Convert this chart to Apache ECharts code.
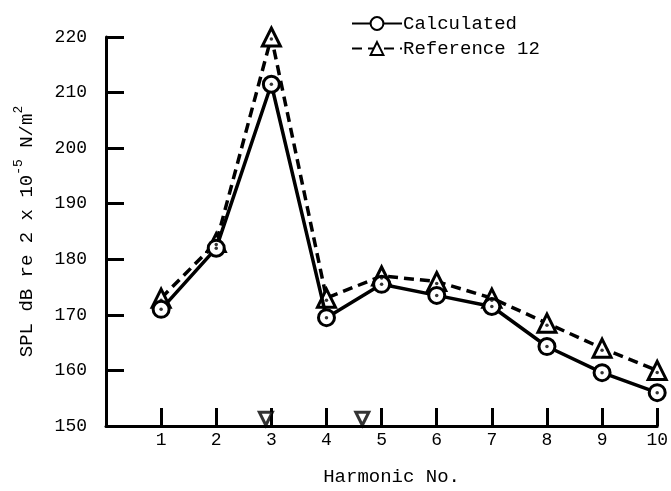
<!DOCTYPE html>
<html>
<head>
<meta charset="utf-8">
<script src="https://cdn.jsdelivr.net/npm/echarts@6/dist/echarts.min.js"></script>
<style>
  html, body { margin: 0; padding: 0; background: #fff; }
  #chart { width: 671px; height: 491px; }
</style>
</head>
<body>
<div id="chart"></div>
<script>
    // harmonic numbers
    var harmonics = [1, 2, 3, 4, 5, 6, 7, 8, 9, 10];
    // SPL values (dB)
    var calculated = [171, 182, 211.5, 169.5, 175.5, 173.5, 171.5, 164.3, 159.6, 156];
    var reference12 = [173, 183, 220, 173, 177, 176, 173, 168.5, 164, 160];
    // the two open down-triangles sitting on the x axis
    var axisMarks = [[2.9, 151.3], [4.65, 151.3]];
    var yTicks = [150, 160, 170, 180, 190, 200, 210, 220];

    var fontName = "Liberation Mono";

    function pairs(vals) {
        return harmonics.map(function (h, i) {
            return [h, vals[i]];
        });
    }

    var option = {
        backgroundColor: "#fff",
        animation: false,
        textStyle: {fontFamily: fontName, color: "#000"},
        legend: {
            data: ["Calculated", "Reference 12"],
            orient: "vertical",
            left: 346,
            top: 9,
            itemWidth: 50,
            itemHeight: 16,
            itemGap: 6,
            textStyle: {fontFamily: fontName, fontSize: 19, color: "#000", padding: [0, 0, 0, -4]}
        },
        grid: {left: 106, right: 12, top: 37, bottom: 62},
        xAxis: {
            type: "value",
            min: 0,
            max: 10,
            interval: 1,
            name: "Harmonic No.",
            nameLocation: "middle",
            nameGap: 41,
            nameTextStyle: {fontFamily: fontName, fontSize: 19, color: "#000", padding: [0, 0, 0, 20]},
            axisLine: {lineStyle: {color: "#000", width: 3}},
            axisTick: {inside: true, length: 18, lineStyle: {color: "#000", width: 3}},
            axisLabel: {
                fontFamily: fontName,
                fontSize: 18,
                color: "#000",
                margin: 5,
                formatter: function (v) {
                    return v === 0 ? "" : String(v);
                }
            },
            splitLine: {show: false}
        },
        yAxis: {
            type: "value",
            min: yTicks[0],
            max: yTicks[yTicks.length - 1],
            interval: 10,
            name: "{a|SPL dB re 2 x 10}{s|-5}{a| N/m}{s|2}",
            nameLocation: "middle",
            nameGap: 70,
            nameRotate: 90,
            nameTextStyle: {
                rich: {
                    a: {fontFamily: fontName, fontSize: 19, color: "#000", verticalAlign: "bottom", lineHeight: 24},
                    s: {fontFamily: fontName, fontSize: 13, color: "#000", verticalAlign: "top", lineHeight: 24}
                }
            },
            axisLine: {lineStyle: {color: "#000", width: 3}},
            axisTick: {inside: true, length: 18, lineStyle: {color: "#000", width: 3}},
            axisLabel: {fontFamily: fontName, fontSize: 18, color: "#000", margin: 19},
            splitLine: {show: false}
        },
        series: [
            {
                name: "Calculated",
                type: "line",
                data: pairs(calculated),
                symbol: "circle",
                symbolSize: 16,
                lineStyle: {color: "#000", width: 3.5},
                itemStyle: {color: "#fff", borderColor: "#000", borderWidth: 3},
                z: 3
            },
            {
                name: "Reference 12",
                type: "line",
                data: pairs(reference12),
                symbol: "triangle",
                symbolSize: 18,
                lineStyle: {color: "#000", width: 3.5, type: [10, 6]},
                itemStyle: {color: "#fff", borderColor: "#000", borderWidth: 3},
                z: 2
            },
            {
                // centre dots of the circles
                name: "calcDots",
                type: "scatter",
                data: pairs(calculated),
                symbol: "circle",
                symbolSize: 3.5,
                itemStyle: {color: "#000"},
                silent: true,
                z: 5
            },
            {
                // centre dots of the triangles
                name: "refDots",
                type: "scatter",
                data: pairs(reference12),
                symbol: "circle",
                symbolSize: 3.5,
                symbolOffset: [0, 2],
                itemStyle: {color: "#000"},
                silent: true,
                z: 5
            },
            {
                name: "marks",
                type: "scatter",
                data: axisMarks,
                symbol: "triangle",
                symbolRotate: 180,
                symbolSize: 13,
                itemStyle: {color: "#fff", borderColor: "#000", borderWidth: 3},
                silent: true,
                z: 4
            }
        ]
    };

    var myChart = echarts.init(document.getElementById("chart"));
    myChart.setOption(option);
    window.addEventListener("resize", () => {
        myChart.resize();
    });
</script>
</body>
</html>
